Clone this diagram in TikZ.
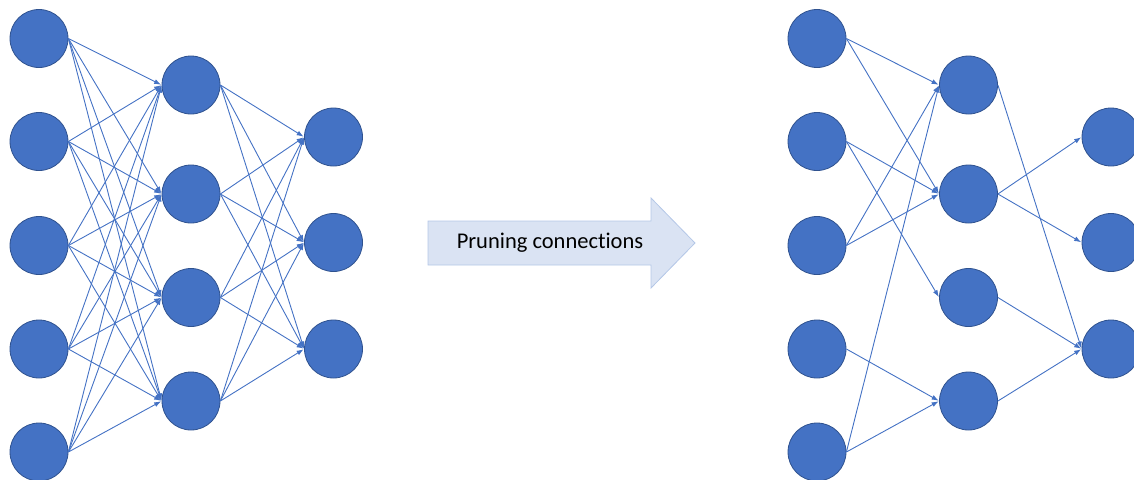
\documentclass[tikz,border=0pt]{standalone}
\usepackage{fontspec}
\setmainfont{Carlito}[Ligatures=NoCommon]
\usetikzlibrary{arrows.meta}
\definecolor{nodeblue}{HTML}{4472C4}
\definecolor{nodeedge}{HTML}{2F528F}
\definecolor{arrfill}{HTML}{DAE3F3}
\definecolor{arredge}{HTML}{B4C7E7}
\begin{document}
\begin{tikzpicture}[x=1pt,y=-1pt,
  neuron/.style={circle,fill=nodeblue,draw=nodeedge,line width=0.8pt,minimum size=58pt,inner sep=0pt},
  conn/.style={draw=nodeblue,line width=0.9pt,-{Latex[length=7pt,width=5pt]},shorten >=0.5pt}]
\useasboundingbox (0,0) rectangle (1134,479);
\clip (0,0) rectangle (1134,479);
% left network
\foreach \i/\y in {1/38.5,2/141.5,3/245.5,4/349,5/452}{\node[neuron] (L\i) at (39,\y) {};}
\foreach \i/\y in {1/85,2/194,3/297.5,4/401}{\node[neuron] (M\i) at (191,\y) {};}
\foreach \i/\y in {1/137,2/242.5,3/349}{\node[neuron] (N\i) at (333.5,\y) {};}
\foreach \a in {1,...,5}{\foreach \b in {1,...,4}{\draw[conn] (L\a.east) -- (M\b.west);}}
\foreach \a in {1,...,4}{\foreach \b in {1,...,3}{\draw[conn] (M\a.east) -- (N\b.west);}}
% right network
\foreach \i/\y in {1/38.5,2/141.5,3/245.5,4/349,5/452}{\node[neuron] (RI\i) at (817,\y) {};}
\foreach \i/\y in {1/85,2/194,3/297.5,4/401}{\node[neuron] (RH\i) at (968.5,\y) {};}
\foreach \i/\y in {1/137,2/242.5,3/349}{\node[neuron] (RO\i) at (1111,\y) {};}
\foreach \a/\b in {1/1,1/2,2/2,2/3,3/1,3/2,4/4,5/1,5/4}{\draw[conn] (RI\a.east) -- (RH\b.west);}
\foreach \a/\b in {1/3,2/1,2/2,3/3,4/3}{\draw[conn] (RH\a.east) -- (RO\b.west);}
% block arrow
\draw[fill=arrfill,draw=arredge,line width=0.8pt] (428,221) -- (651,221) -- (651,198) -- (695,243) -- (651,288) -- (651,265) -- (428,265) -- cycle;
\node[font=\fontsize{22.5}{27}\selectfont,text=black] (lbl) at (550,243) {Pruning connections};
\end{tikzpicture}
\end{document}
